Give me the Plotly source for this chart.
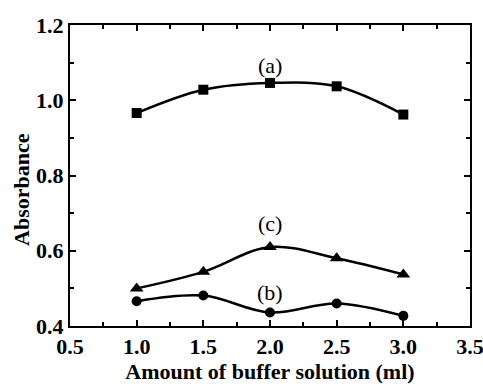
import plotly.graph_objects as go

x_vals = [1.0, 1.5, 2.0, 2.5, 3.0]
series_a = [0.966, 1.028, 1.046, 1.037, 0.962]
series_b = [0.466, 0.481, 0.436, 0.460, 0.427]
series_c = [0.500, 0.544, 0.610, 0.580, 0.537]
labels = ["(a)", "(b)", "(c)"]
label_pos = [(2.0, 1.093), (2.0, 0.490), (2.0, 0.673)]
x_ticks = [0.5, 1.0, 1.5, 2.0, 2.5, 3.0, 3.5]
y_ticks = [0.4, 0.6, 0.8, 1.0, 1.2]

FONT = "Times New Roman, Liberation Serif, serif"
fig = go.Figure()
for ys, sym, sz in [(series_a, "square", 10), (series_b, "circle", 10), (series_c, "triangle-up", 12)]:
    fig.add_trace(go.Scatter(
        x=x_vals, y=ys, mode="lines+markers",
        line=dict(color="black", width=2.5, shape="spline", smoothing=1.0),
        marker=dict(symbol=sym, size=sz, color="black"),
        showlegend=False))

for lab, (lx, ly) in zip(labels, label_pos):
    fig.add_annotation(x=lx, y=ly, text=lab, showarrow=False,
                       font=dict(family=FONT, size=22, color="black"))

fig.add_annotation(xref="paper", yref="paper", x=-0.12, y=0.452, text="<b>Absorbance</b>",
                   textangle=-90, showarrow=False, xanchor="center", yanchor="middle",
                   font=dict(family=FONT, size=22, color="black"))

axis_common = dict(showline=True, linecolor="black", linewidth=2, mirror="ticks",
                   ticks="inside", ticklen=6, tickwidth=1.5, tickcolor="black",
                   showgrid=False, zeroline=False, automargin=False,
                   ticklabeloverflow="allow",
                   tickfont=dict(family=FONT, size=22, color="black", weight="bold"))

fig.update_xaxes(range=[0.5, 3.5], tickmode="array",
                 tickvals=x_ticks,
                 ticktext=[f"<b>{v:.1f}</b>" for v in x_ticks],
                 minor=dict(tickvals=[0.75, 1.25, 1.75, 2.25, 2.75, 3.25], ticks="inside",
                            ticklen=4, tickwidth=1.5, tickcolor="black"),
                 title=dict(text="<b>Amount of buffer solution (ml)</b>", standoff=4,
                            font=dict(family=FONT, size=22, color="black")),
                 **axis_common)
fig.update_yaxes(range=[0.4, 1.2], tickmode="array",
                 tickvals=y_ticks,
                 ticktext=[f"<b>{v:.1f}</b>" for v in y_ticks],
                 minor=dict(tickvals=[0.5, 0.7, 0.9, 1.1], ticks="inside",
                            ticklen=4, tickwidth=1.5, tickcolor="black"),
                 **axis_common)

fig.update_layout(width=483, height=390, margin=dict(l=70, r=13, t=25, b=64),
                  plot_bgcolor="white", paper_bgcolor="white")
fig.write_html("out.html")
